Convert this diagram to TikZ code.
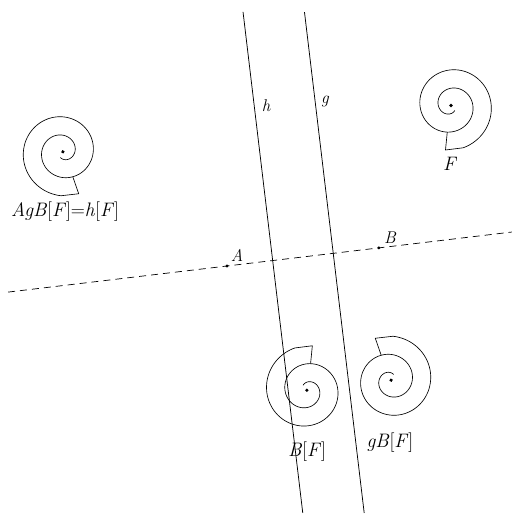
\documentclass[tikz,border=0pt]{standalone}
\usetikzlibrary{calc}
\newcommand{\snailshape}{%
  \draw[shellln] plot[domain=-74:667, samples=240] ({(44-0.051*(\x+74))*cos(\x)}, {(44-0.051*(\x+74))*sin(\x)});
  \draw[shellln] (-74:44) -- (-5.5,-44.5) -- (262:26.9);
  \fill (0,0) circle (1.8pt);
}
\newcommand{\iv}[1]{\textit{#1}}
\tikzset{
  ln/.style={line width=0.75pt, black},
  shellln/.style={line width=0.65pt, black, line join=round},
  dashln/.style={line width=0.7pt, black, dash pattern=on 7pt off 5pt},
  biglbl/.style={font=\fontsize{19.5}{22}\selectfont, inner sep=0pt},
  smalllbl/.style={font=\fontsize{17}{20}\selectfont\itshape, inner sep=0pt},
}
\begin{document}
\begin{tikzpicture}[x=1pt, y=1pt]
\useasboundingbox (0,0) rectangle (512,515);
% points on the axis
\coordinate (A) at (227,249);
\coordinate (B) at ($(A)+(6.8:153)$);
\coordinate (G) at ($(A)+(6.8:107)$);
\coordinate (H) at ($(A)+(B)-(G)$);
\coordinate (L1) at ($(A)+(186.8:220.5)$);
\coordinate (L2) at ($(A)+(6.8:287)$);
\coordinate (h1) at ($(H)+(96.8:250.4)$);
\coordinate (h2) at ($(H)+(276.8:254.2)$);
\coordinate (g1) at ($(G)+(96.8:243)$);
\coordinate (g2) at ($(G)+(276.8:261.5)$);
% spiral centres
\coordinate (Fc) at (451,409.5);
\coordinate (BFc) at ($(Fc)!2!(B)$);
\coordinate (proj) at ($(G)!(BFc)!(g1)$);
\coordinate (gBFc) at ($(BFc)!2!(proj)$);
\coordinate (hFc) at ($(gBFc)!2!(A)$);
% lines
\draw[dashln] (L1) -- (L2);
\draw[ln] (h1) -- (h2);
\draw[ln] (g1) -- (g2);
\fill (A) circle (1.6pt);
\fill (B) circle (1.6pt);
% spirals
\begin{scope}[shift={(Fc)}]
  \snailshape
\end{scope}
\begin{scope}[shift={(BFc)}, rotate=180]
  \snailshape
\end{scope}
\begin{scope}[shift={(gBFc)}, cm={0.97196,0.23514,0.23514,-0.97196,(0,0)}]
  \snailshape
\end{scope}
\begin{scope}[shift={(hFc)}, cm={-0.97196,-0.23514,-0.23514,0.97196,(0,0)}]
  \snailshape
\end{scope}
% labels
\node[smalllbl] (lA) at (237,260) {A};
\node[smalllbl] (lB) at (390,277) {B};
\node[smalllbl] (lh) at (266,409) {h};
\node[smalllbl] (lg) at (325,414) {g};
\node[biglbl] (lF) at (450,351) {\iv{F}};
\node[biglbl] (lhF) at (65,303) {\iv{AgB}[\iv{F}]=\iv{h}[\iv{F}]};
\node[biglbl] (lBF) at (307,63) {\iv{B}[\iv{F}]};
\node[biglbl] (lgBF) at (390,72) {\iv{gB}[\iv{F}]};
\end{tikzpicture}
\end{document}
